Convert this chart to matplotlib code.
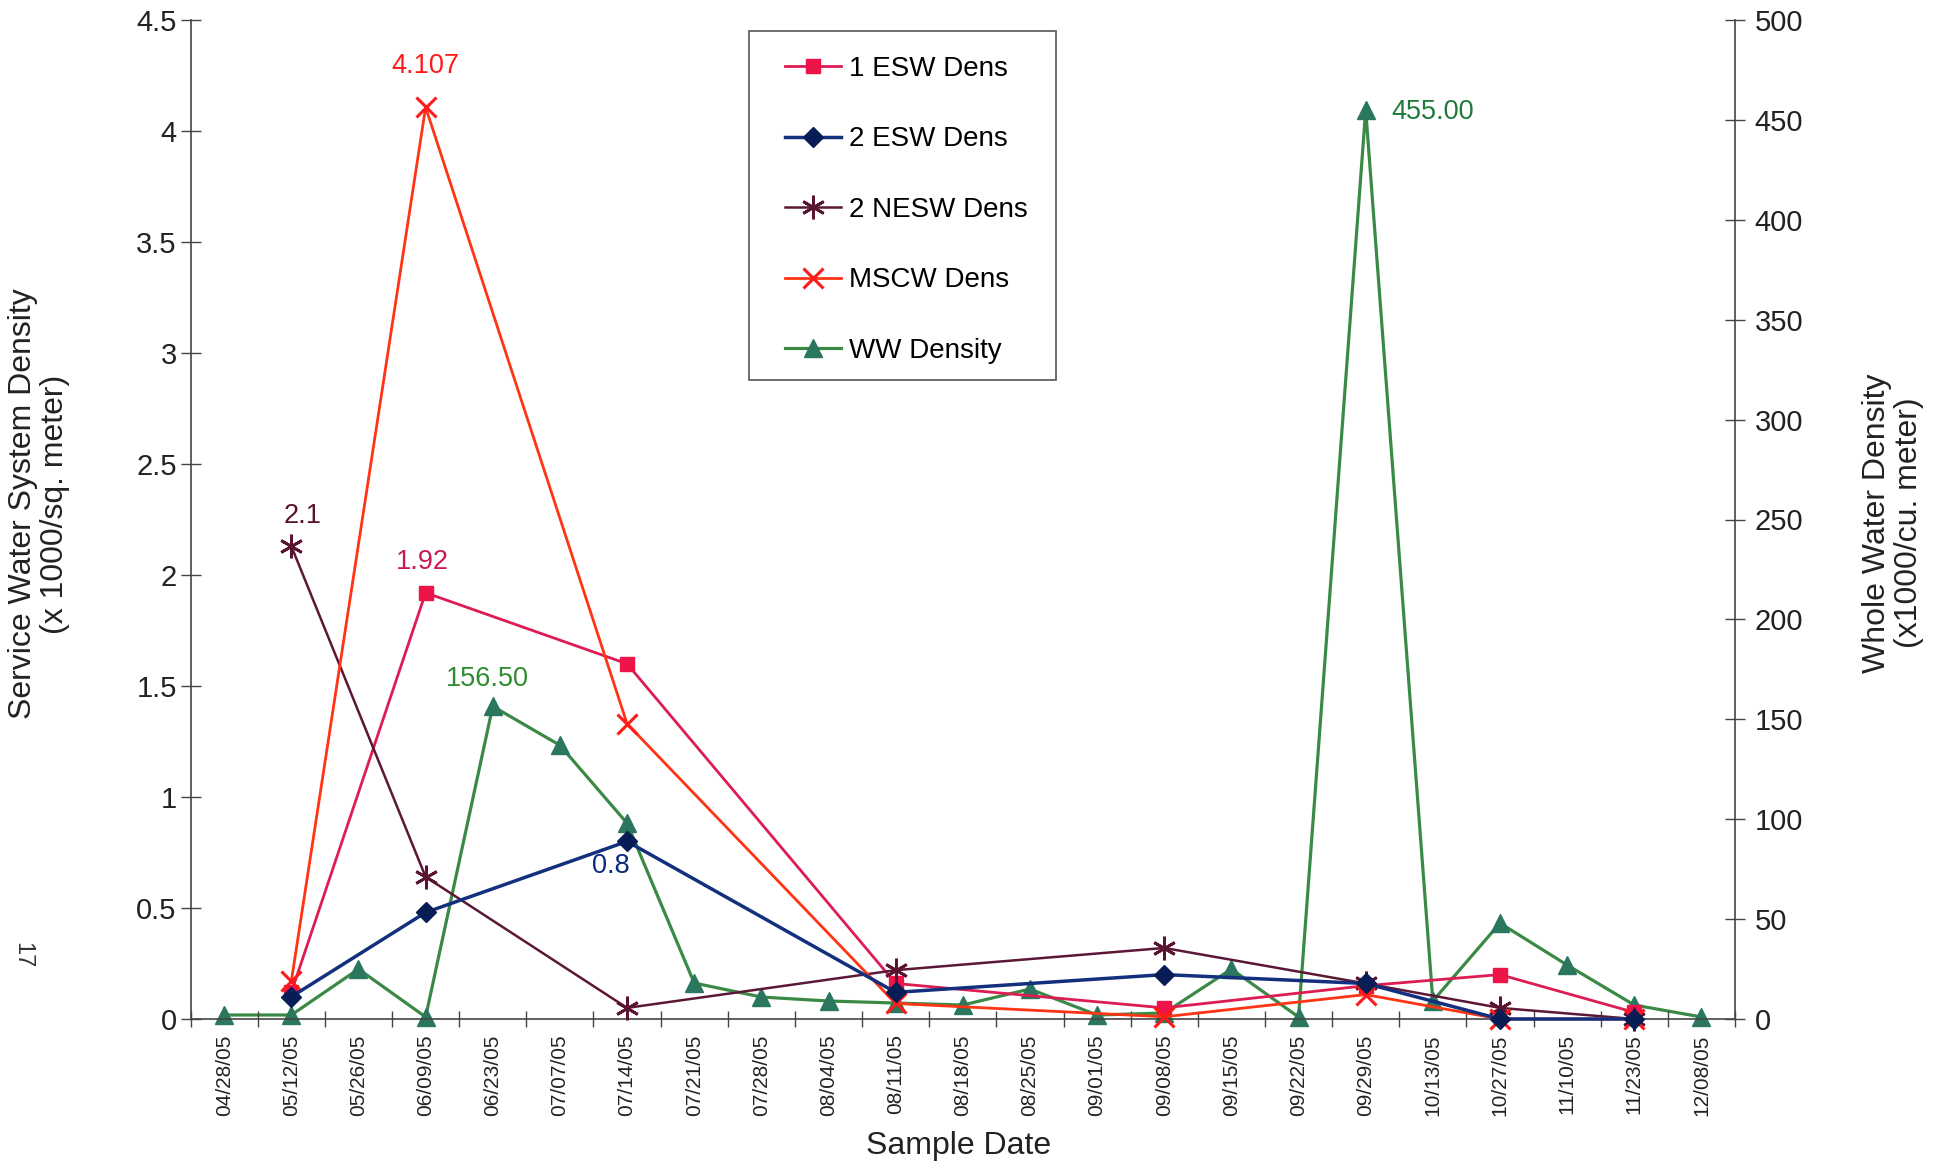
import numpy as np
import matplotlib
matplotlib.use("Agg")
import matplotlib.pyplot as plt
from matplotlib.patches import Rectangle

plt.rcParams['font.family'] = ['Liberation Sans', 'DejaVu Sans']

dates = ['04/28/05', '05/12/05', '05/26/05', '06/09/05', '06/23/05', '07/07/05',
         '07/14/05', '07/21/05', '07/28/05', '08/04/05', '08/11/05', '08/18/05',
         '08/25/05', '09/01/05', '09/08/05', '09/15/05', '09/22/05', '09/29/05',
         '10/13/05', '10/27/05', '11/10/05', '11/23/05', '12/08/05']
nan = np.nan
esw1 = [nan, 0.12, nan, 1.92, nan, nan, 1.60, nan, nan, nan, 0.16, nan,
        nan, nan, 0.05, nan, nan, 0.15, nan, 0.20, nan, 0.03, nan]
esw2 = [nan, 0.10, nan, 0.48, nan, nan, 0.80, nan, nan, nan, 0.12, nan,
        nan, nan, 0.20, nan, nan, 0.16, nan, 0.0, nan, 0.0, nan]
nesw2 = [nan, 2.13, nan, 0.64, nan, nan, 0.05, nan, nan, nan, 0.22, nan,
         nan, nan, 0.32, nan, nan, 0.16, nan, 0.05, nan, 0.0, nan]
mscw = [nan, 0.17, nan, 4.107, nan, nan, 1.33, nan, nan, nan, 0.07, nan,
        nan, nan, 0.01, nan, nan, 0.11, nan, 0.0, nan, 0.0, nan]
ww = [2, 2, 25, 1, 156.5, 137, 98, 18, 11, 9, 8, 7,
      15, 2, 3, 25, 1, 455, 9, 48, 27, 7, 1]

left_ticks = [0, 0.5, 1, 1.5, 2, 2.5, 3, 3.5, 4, 4.5]
left_labels = ['0', '0.5', '1', '1.5', '2', '2.5', '3', '3.5', '4', '4.5']
right_ticks = list(range(0, 501, 50))

W, H = 1953, 1164
fig = plt.figure(figsize=(W / 100, H / 100), dpi=100)
ax = fig.add_axes([190.6 / W, 1 - 1019 / H, (1735 - 190.6) / W, (1019 - 20) / H])
ax2 = ax.twinx()

x = np.arange(len(dates))


def draw(axis, vals, **kw):
    v = np.array(vals, dtype=float)
    m = ~np.isnan(v)
    return axis.plot(x[m], v[m], clip_on=False, **kw)[0]


l1 = draw(ax, esw1, color='#dc1c52', lw=2, marker='s', ms=10,
          mfc='#ec1448', mec='#ec1448', label='1 ESW Dens', zorder=4)
l2 = draw(ax, esw2, color='#13307e', lw=2.5, marker='D', ms=10,
          mfc='#081c55', mec='#081c55', label='2 ESW Dens', zorder=5)
l3 = draw(ax, nesw2, color='#5a1836', lw=1.8, marker=(6, 2, 0), ms=17, mew=2,
          mec='#5a1432', label='2 NESW Dens', zorder=4)
l4 = draw(ax, mscw, color='#ff3414', lw=2, marker='x', ms=15, mew=2.2,
          mec='#ff1a1a', label='MSCW Dens', zorder=4)
l5 = draw(ax2, ww, color='#3a8a46', lw=2.3, marker='^', ms=13,
          mfc='#2a765e', mec='#2a765e', label='WW Density', zorder=3)

ax.set_xlim(-0.5, len(dates) - 0.5)
ax.set_ylim(0, 4.5)
ax2.set_ylim(0, 500)

ax.set_yticks(left_ticks)
ax.set_yticklabels(left_labels)
ax2.set_yticks(right_ticks)
ax.set_xticks(x)
ax.set_xticklabels(dates, rotation=90, va='top', ha='center')
ax.set_xticks(np.arange(-0.5, len(dates)), minor=True)

ax.tick_params(axis='x', which='major', length=0, pad=11, labelsize=15, colors='#222')
ax.tick_params(axis='x', which='minor', direction='inout', length=12, width=1, color='#444')
ax.tick_params(axis='y', direction='inout', length=14, width=1, pad=3, labelsize=21,
               color='#444', labelcolor='#222')
ax2.tick_params(axis='y', direction='inout', length=14, width=1, pad=7, labelsize=21,
                color='#444', labelcolor='#222')

for a in (ax, ax2):
    a.spines['top'].set_visible(False)
    for s in ('left', 'right', 'bottom'):
        a.spines[s].set_color('#444')
        a.spines[s].set_linewidth(1.2)
ax.spines['right'].set_visible(False)
ax2.spines['left'].set_visible(False)
ax2.spines['bottom'].set_visible(False)

ax2.set_zorder(ax.get_zorder() - 1)
ax.patch.set_visible(False)

# data labels
ann = dict(textcoords='offset pixels', ha='center', va='center', fontsize=19.5)
ax.annotate('4.107', (3, mscw[3]), xytext=(0, 41), color='#ff1a1a', **ann)
ax.annotate('1.92', (3, esw1[3]), xytext=(-3, 31), color='#c81858', **ann)
ax.annotate('2.1', (1, nesw2[1]), xytext=(11, 30), color='#5a1432', **ann)
ax.annotate('0.8', (6, esw2[6]), xytext=(-16, -25), color='#0a2a7a', **ann)
ax2.annotate('156.50', (4, ww[4]), xytext=(-5, 27), color='#2e8b2e', **ann)
ax2.annotate('455.00', (17, ww[17]), xytext=(26, -2), color='#1f7a3a',
             textcoords='offset pixels', ha='left', va='center', fontsize=19.5)

# legend frame drawn separately, legend itself placed inside
fig.patches.append(Rectangle((749 / W, 1 - 380 / H), (1056 - 749) / W, (380 - 31) / H,
                             transform=fig.transFigure, facecolor='white',
                             edgecolor='#555', linewidth=1.2, zorder=9))
leg = fig.legend(handles=[l1, l2, l3, l4, l5], loc='upper left',
                 bbox_to_anchor=(785 / W, 1 - 56 / H), bbox_transform=fig.transFigure,
                 borderaxespad=0, borderpad=0, fontsize=20, numpoints=1,
                 handlelength=2.0, handletextpad=0.3, labelspacing=1.6,
                 frameon=False)
leg.set_zorder(10)

fig.text(39 / W, 1 - 504 / H, 'Service Water System Density\n(x 1000/sq. meter)',
         rotation=90, ha='center', va='center', fontsize=23, color='#222',
         linespacing=1.1)
fig.text(1893 / W, 1 - 523 / H, 'Whole Water Density\n(x1000/cu. meter)',
         rotation=90, ha='center', va='center', fontsize=23, color='#222',
         linespacing=1.1)
fig.text(959 / W, 1 - 1146 / H, 'Sample Date', ha='center', va='center',
         fontsize=23, color='#222')
fig.text(22 / W, 1 - 955 / H, '17', rotation=-90, ha='center', va='center',
         fontsize=17, color='#333')

fig.savefig('out.png', dpi=100)
